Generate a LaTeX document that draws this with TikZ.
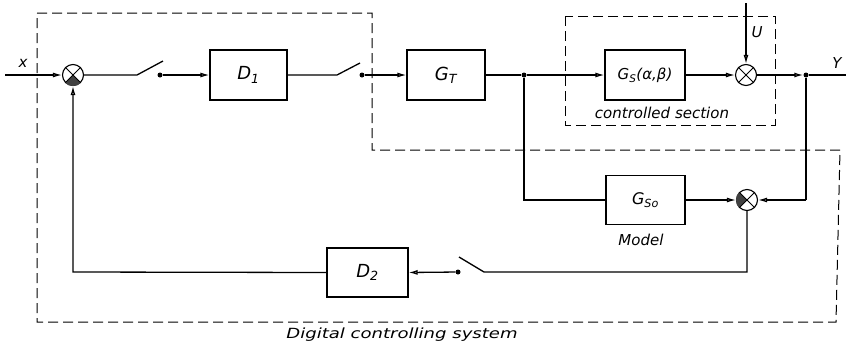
\documentclass[tikz,border=0pt]{standalone}
\usepackage{fontspec}
\setsansfont{DejaVu Sans}
\usetikzlibrary{arrows.meta}
\begin{document}
\begin{tikzpicture}[x=1pt,y=-1pt,
  lbl/.style={font=\sffamily\itshape\fontsize{15}{17}\selectfont, inner sep=0},
  blk/.style={draw, line width=1.1pt, minimum width=78pt, minimum height=50pt, font=\sffamily\itshape\fontsize{18}{20}\selectfont, inner sep=0},
  sumj/.style={draw, circle, line width=1.1pt, minimum size=21pt, inner sep=0},
  ln/.style={line width=1.3pt},
  arr/.style={ln, -{Latex[open,length=9pt,width=5pt]}},
  frame/.style={dash pattern=on 10pt off 5pt, line width=1pt},
  dotn/.style={circle, fill, inner sep=0, minimum size=5pt}]
\useasboundingbox (0,0) rectangle (846,354);

% frames
\draw[frame] (37,13) -- (372,13) -- (372,150) -- (840,150) -- (836,322) -- (37,322) -- cycle;
\draw[frame] (565,16) rectangle (775,125);

% blocks
\node[blk, minimum width=77pt] (D1) at (248.5,75) {D\textsubscript{1}};
\node[blk] (GT) at (446,75) {G\textsubscript{T}};
\node[blk, minimum width=80pt, font=\sffamily\itshape\fontsize{15}{17}\selectfont] (Gs) at (645,75) {G\textsubscript{S}(α,β)};
\node[blk, minimum width=79pt, minimum height=49pt, font=\sffamily\itshape\fontsize{16}{18}\selectfont] (Gso) at (645.5,200) {G\textsubscript{So}};
\node[blk, minimum width=81pt, minimum height=49pt] (D2) at (367.5,272.5) {D\textsubscript{2}};

% summing junctions
\node[sumj] (s1) at (73,75) {};
\node[sumj] (s2) at (746,75) {};
\node[sumj] (s3) at (747,200) {};
\fill[black!75] (s1.center) -- (s1.225) -- (s1.245) -- (s1.270) -- (s1.295) -- (s1.315) -- cycle;
\fill[black!75] (s3.center) -- (s3.135) -- (s3.155) -- (s3.180) -- (s3.205) -- (s3.225) -- cycle;
\foreach \s in {s1,s2,s3} {
  \draw[line width=1pt] (\s.45) -- (\s.225) (\s.135) -- (\s.315);
}

% dots and coordinates
\node[dotn] (sw1) at (160,75) {};
\node[dotn] (sw2) at (362,75) {};
\node[dotn] (sw3) at (458,272) {};
\node[dotn] (j1) at (524,75) {};
\node[dotn] (j2) at (806,75) {};
\coordinate (xin) at (5,75);
\coordinate (sw1a) at (137,75);
\coordinate (sw1b) at (163,61);
\coordinate (sw2a) at (337,75);
\coordinate (sw2b) at (360,63);
\coordinate (sw3a) at (484,272);
\coordinate (sw3b) at (459,257);
\coordinate (uin) at (746,3);
\coordinate (yout) at (846,75);
\coordinate (b1) at (524,200);
\coordinate (b2) at (806,200);
\coordinate (b3) at (747,272);
\coordinate (b4) at (73,272);

% connectors
\draw[arr] (xin) -- (s1.west);
\draw[ln] (s1.east) -- (sw1a) -- (sw1b);
\draw[arr] (sw1) -- (D1.west);
\draw[ln] (D1.east) -- (sw2a) -- (sw2b);
\draw[arr] (sw2) -- (GT.west);
\draw[ln] (GT.east) -- (j1);
\draw[arr] (j1) -- (Gs.west);
\draw[arr] (Gs.east) -- (s2.west);
\draw[arr] (uin) -- (s2.north);
\draw[arr] (s2.east) -- (j2);
\draw[ln] (j2) -- (yout);
\draw[ln] (j2) -- (b2);
\draw[arr] (b2) -- (s3.east);
\draw[ln] (j1) -- (b1) -- (Gso.west);
\draw[arr] (Gso.east) -- (s3.west);
\draw[ln] (s3.south) -- (b3) -- (sw3a) -- (sw3b);
\draw[arr] (sw3) -- (D2.east);
\draw[arr] (D2.west) -- (b4) -- (s1.south);

% labels
\node[lbl] (lx) at (23,63) {x};
\node[lbl] (lu) at (757,32) {U};
\node[lbl] (ly) at (837,63) {Y};
\node[lbl] (lcs) at (662,113) {controlled section};
\node[lbl] (lm) at (641,240) {Model};
\node[lbl, font=\sffamily\itshape\fontsize{14}{16}\selectfont] (ldc) at (402,335) {\scalebox{1.29}[1]{Digital controlling system}};
\end{tikzpicture}
\end{document}
